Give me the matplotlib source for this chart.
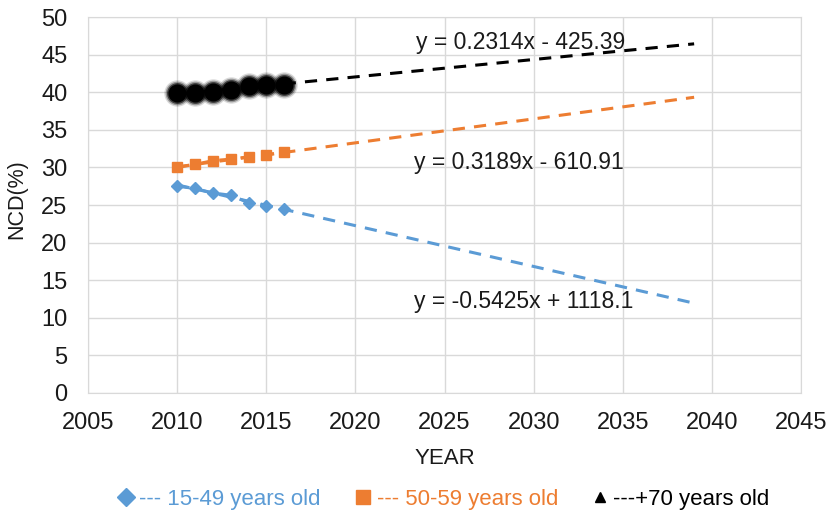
import numpy as np
import matplotlib.pyplot as plt
from matplotlib.lines import Line2D

plt.rcParams['font.family'] = ['Liberation Sans', 'DejaVu Sans']

# NCD share by age group, 2010-2016
years = [2010, 2011, 2012, 2013, 2014, 2015, 2016]
ncd_15_49 = [27.5, 27.2, 26.6, 26.3, 25.3, 24.9, 24.5]
ncd_50_59 = [30.0, 30.4, 30.9, 31.1, 31.4, 31.7, 32.0]
ncd_70 = [39.9, 39.9, 40.0, 40.3, 40.8, 40.9, 41.0]

# linear trend coefficients (slope, intercept) and forecast end year
trend_15_49 = (-0.5425, 1118.1)
trend_50_59 = (0.3189, -610.91)
trend_70 = (0.2314, -425.39)
trend_end = 2039

blue = '#5B9BD5'
orange = '#ED7D31'
grid_c = '#D9D9D9'
txt_c = '#1a1a1a'

fig = plt.figure(figsize=(8.31, 5.16), dpi=100)
ax = fig.add_axes([0.106, 0.2384, 0.858, 0.7286])

def trend(coef, color):
    tx = np.array([years[0], trend_end])
    ax.plot(tx, coef[0] * tx + coef[1], color=color, lw=2.2,
            dashes=(4, 3), zorder=2)

trend(trend_15_49, blue)
trend(trend_50_59, orange)
trend(trend_70, 'black')

ax.plot(years, ncd_15_49, color=blue, lw=2.2, dashes=(4, 3),
        marker='D', ms=6, mec=blue, zorder=3)
ax.plot(years, ncd_50_59, color=orange, lw=2.2, dashes=(4, 3),
        marker='s', ms=7, mec=orange, zorder=3)
# soft black dots for the 70+ group
for ms, a in [(19, 0.15), (17, 0.3), (15, 0.6), (13, 1.0)]:
    ax.plot(years, ncd_70, ls='none', marker='o', ms=ms,
            mfc='black', mec='none', alpha=a, zorder=4)

ax.text(2023.4, 45.7, 'y = 0.2314x - 425.39', fontsize=16.5, color=txt_c)
ax.text(2023.3, 29.8, 'y = 0.3189x - 610.91', fontsize=16.5, color=txt_c)
ax.text(2023.3, 11.3, 'y = -0.5425x + 1118.1', fontsize=16.5, color=txt_c)

ax.set_xlim(2005, 2045)
ax.set_ylim(0, 50)
ax.set_xticks(range(2005, 2046, 5))
ax.set_yticks(range(0, 51, 5))
ax.tick_params(length=0, labelsize=17, colors=txt_c)
ax.tick_params(axis='x', pad=14)
ax.tick_params(axis='y', pad=15)
ax.grid(True, color=grid_c, lw=1)
ax.set_axisbelow(True)
for s in ax.spines.values():
    s.set_color(grid_c)

ax.set_xlabel('YEAR', fontsize=16, color=txt_c, labelpad=10)
ax.set_ylabel('NCD(%)', fontsize=15.5, color=txt_c)
ax.yaxis.set_label_coords(-0.085, 0.516)

handles = [
    Line2D([], [], ls='none', marker='D', ms=9, color=blue),
    Line2D([], [], ls='none', marker='s', ms=10, color=orange),
    Line2D([], [], ls='none', marker='^', ms=7, color='black'),
]
labels = ['--- 15-49 years old', '--- 50-59 years old', '---+70 years old']
leg = fig.legend(handles, labels, loc='lower center', ncol=3,
                 bbox_to_anchor=(0.535, -0.027), frameon=False, fontsize=16,
                 handlelength=0.6, handletextpad=0.3, columnspacing=1.6)
for t, c in zip(leg.get_texts(), [blue, orange, 'black']):
    t.set_color(c)

fig.savefig('out.png', dpi=100)
